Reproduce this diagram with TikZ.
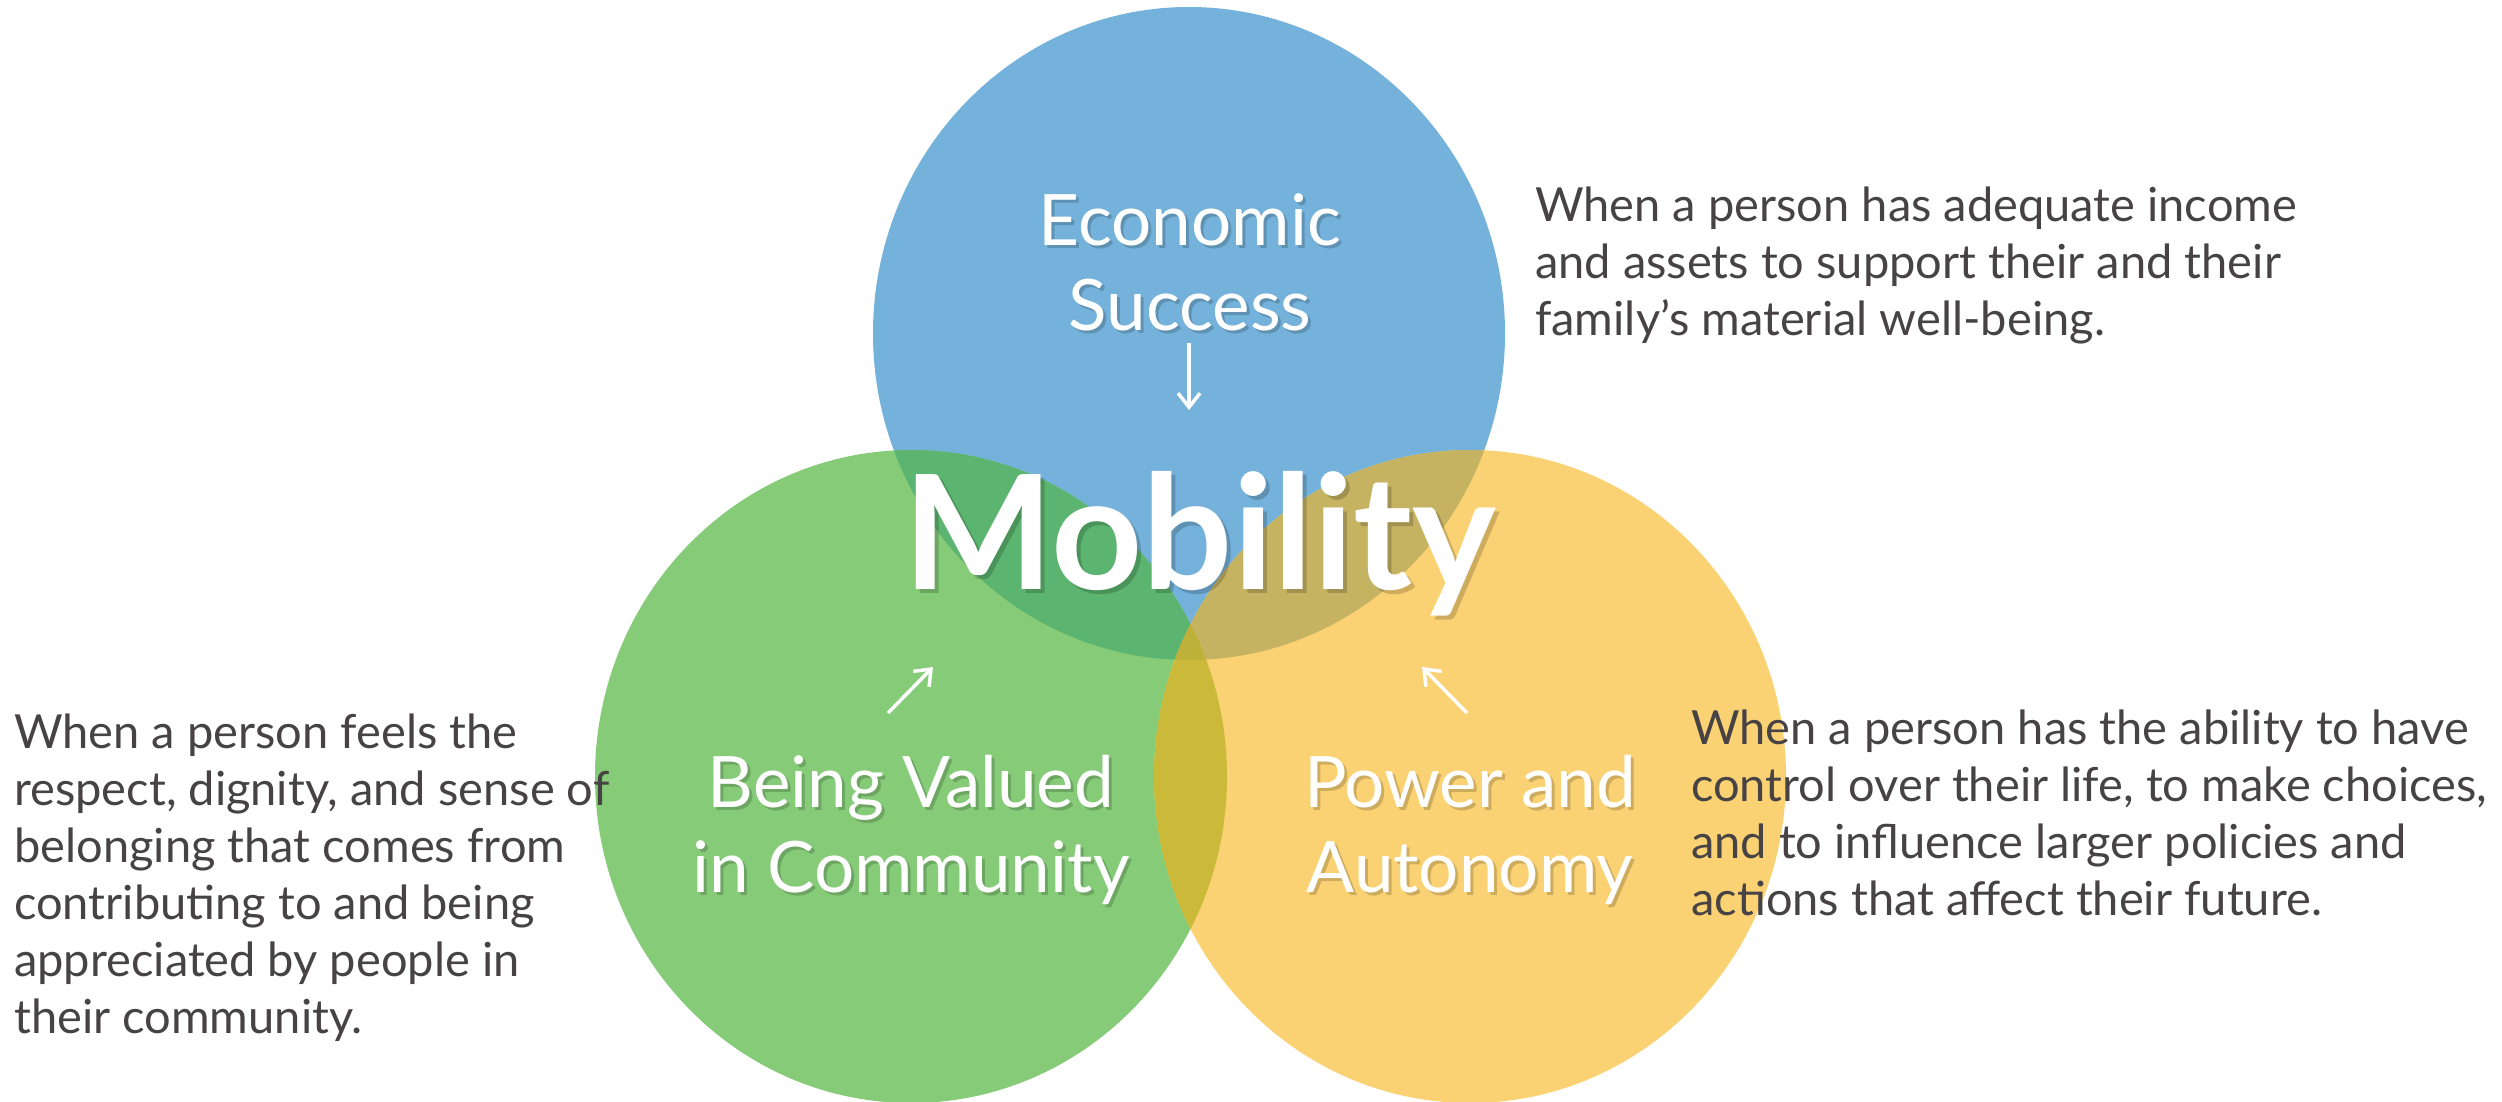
\documentclass[tikz,border=0pt]{standalone}
\usepackage{fontspec}
\setmainfont{Lato}
\usetikzlibrary{arrows.meta}
\definecolor{cB}{HTML}{74B2DB}
\definecolor{cG}{HTML}{86CB78}
\definecolor{cY}{HTML}{FBD273}
\definecolor{cBG}{HTML}{5BB46F}
\definecolor{cBY}{HTML}{C5B362}
\definecolor{cGY}{HTML}{CBBA3A}
\definecolor{cBGY}{HTML}{BEB13A}
\definecolor{descgray}{HTML}{474344}
\begin{document}
\begin{tikzpicture}[x=1pt,y=-1pt,
  lab/.style={text=white,font=\fontsize{71}{85}\selectfont,inner sep=0pt,anchor=base,align=center},
  labsh/.style={lab,text=black,text opacity=0.18},
  big/.style={text=white,font=\fontsize{159}{159}\selectfont\bfseries,inner sep=0pt,anchor=base},
  bigsh/.style={big,text=black,text opacity=0.18},
  desc/.style={text=descgray,font=\fontsize{47}{57}\selectfont,inner sep=0pt,anchor=base west,align=left},
  arr/.style={white,line width=3.5pt,-{Straight Barb[length=14pt,width=22pt]}}]
\useasboundingbox (0,0) rectangle (2502,1101);
\fill[white] (0,0) rectangle (2502,1101);
% circles
\fill[cB] (1189,333.5) ellipse [x radius=316,y radius=326.5];
\fill[cG] (911,776.5) ellipse [x radius=316,y radius=326.5];
\fill[cY] (1470,776.5) ellipse [x radius=316,y radius=326.5];
\begin{scope}
  \clip (1189,333.5) ellipse [x radius=316,y radius=326.5];
  \fill[cBG] (911,776.5) ellipse [x radius=316,y radius=326.5];
  \fill[cBY] (1470,776.5) ellipse [x radius=316,y radius=326.5];
\end{scope}
\begin{scope}
  \clip (911,776.5) ellipse [x radius=316,y radius=326.5];
  \fill[cGY] (1470,776.5) ellipse [x radius=316,y radius=326.5];
  \clip (1189,333.5) ellipse [x radius=316,y radius=326.5];
  \fill[cBGY] (1470,776.5) ellipse [x radius=316,y radius=326.5];
\end{scope}
% labels (base anchor = baseline of last line)
\node[labsh] (econS) at (1193,333) {Economic\\Success};
\node[lab] (econ) at (1190,330) {Economic\\Success};
\node[labsh] (valS) at (914,895) {Being Valued\\in Community};
\node[lab] (val) at (911,892) {Being Valued\\in Community};
\node[labsh] (powS) at (1473,895) {Power and\\Autonomy};
\node[lab] (pow) at (1470,892) {Power and\\Autonomy};
\node[bigsh] (mobS) at (1204,593) {Mobility};
\node[big] (mob) at (1200,589) {Mobility};
% arrows
\coordinate (a1s) at (1189,343);
\coordinate (a1e) at (1189,410);
\coordinate (a2s) at (888,713);
\coordinate (a2e) at (933,667);
\coordinate (a3s) at (1467,713);
\coordinate (a3e) at (1422,667);
\draw[arr] (a1s) -- (a1e);
\draw[arr] (a2s) -- (a2e);
\draw[arr] (a3s) -- (a3e);
% descriptions
\node[desc] (dEcon) at (1535,335) {When a person has adequate income\\and assets to support their and their\\family’s material well-being.};
\node[desc] (dVal) at (14,1033) {When a person feels the\\respect, dignity, and sense of\\belonging that comes from\\contributing to and being\\appreciated by people in\\their community.};
\node[desc] (dPow) at (1691,915) {When a person has the ability to have\\control over their life, to make choices,\\and to influence larger policies and\\actions that affect their future.};
\end{tikzpicture}
\end{document}
